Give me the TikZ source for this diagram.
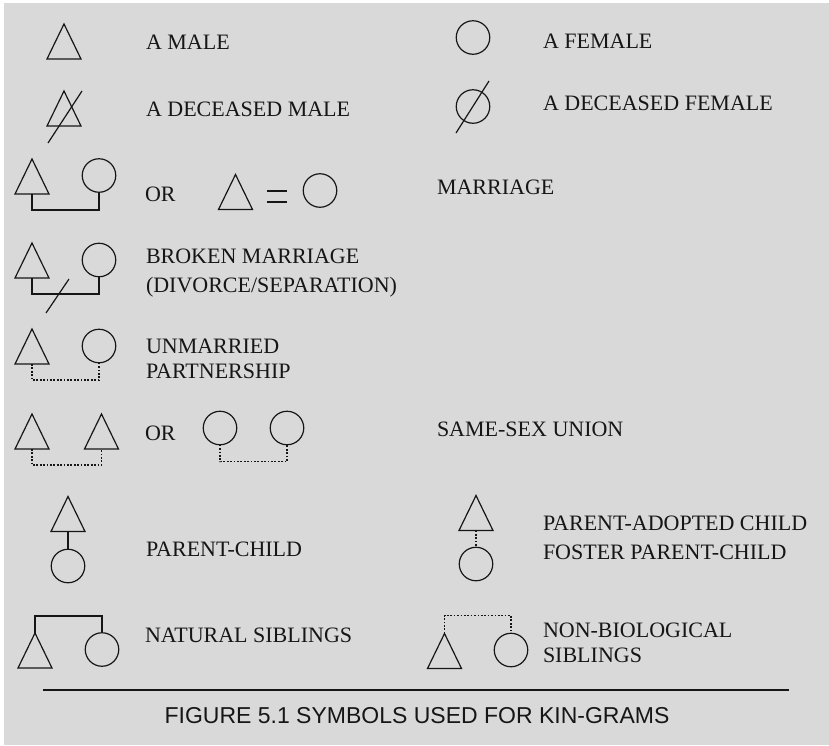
\documentclass[tikz,border=0pt]{standalone}
\usepackage{fontspec}
\setmainfont{Liberation Serif}
\newfontfamily\capfont{Liberation Sans}
\usetikzlibrary{calc}
\definecolor{panel}{RGB}{217,217,217}
\definecolor{ink}{RGB}{22,22,22}
\begin{document}
\begin{tikzpicture}[x=1pt,y=-1pt,
  line width=1.2pt, draw=ink,
  every node/.style={inner sep=0pt, outer sep=0pt},
  male/.style={rectangle, minimum width=34pt, minimum height=35pt},
  female/.style={circle, draw=ink, line width=1.2pt, minimum size=33.5pt},
  txt/.style={anchor=base west, text=ink, align=left,
    font=\fontsize{22}{29}\selectfont},
  txttight/.style={txt, font=\fontsize{22}{25}\selectfont},
  tri/.style={draw=ink, line width=1.2pt, line join=miter},
  tie/.style={draw=ink, line width=1.2pt},
  dotline/.style={draw=ink, line width=1.2pt, dash pattern=on 1.7pt off 1.7pt},
  slash/.style={draw=ink, line width=1.2pt},
]
% page and panel
\useasboundingbox (0,0) rectangle (829,745);
\fill[white] (0,0) rectangle (829,745);
\fill[panel] (4,3) rectangle (829,745);

% ---- symbols (triangles are drawn from the node corners) ----
\node[male] (m1) at (64,41.5) {};
\node[male] (dm) at (64,108.5) {};
\node[female] (f1) at (473,37.5) {};
\node[female] (df) at (473,106.5) {};

\node[male] (mt1) at (32,176.5) {};
\node[female] (mc1) at (99,175.5) {};
\node[male] (mt2) at (235.5,192) {};
\node[female] (mc2) at (320,190.5) {};

\node[male] (bt) at (32,260.5) {};
\node[female] (bc) at (99,260) {};

\node[male] (ut) at (32,346.5) {};
\node[female] (uc) at (99,346) {};

\node[male] (st1) at (32,431.5) {};
\node[male] (st2) at (101.5,431.5) {};
\node[female] (sc1) at (220,428) {};
\node[female] (sc2) at (287,428) {};

\node[male] (pt) at (68,514) {};
\node[female] (pc) at (68,566) {};
\node[male] (at) at (476,513) {};
\node[female] (ac) at (476,564) {};

\node[male] (nt) at (35,650.5) {};
\node[female] (nc) at (102,649.5) {};
\node[male] (bt2) at (444.5,651) {};
\node[female] (bc2) at (511,650) {};

\foreach \n in {m1,dm,mt1,mt2,bt,ut,st1,st2,pt,at,nt,bt2}
  \draw[tri] (\n.south west) -- (\n.north) -- (\n.south east) -- cycle;

% deceased strokes
\draw[slash] (48,143) -- (82,91);
\draw[slash] (456,133) -- (489,81);

% marriage
\draw[tie] (mt1.south) -- ++(0,16) -| (mc1.south);
\draw[tie] (267,191) -- (287,191);
\draw[tie] (267,202) -- (287,202);

% broken marriage
\draw[tie] (bt.south) -- ++(0,16) -| (bc.south);
\draw[slash] (46,313) -- (69,279);

% unmarried partnership
\draw[dotline] (ut.south) -- ++(0,16) -| (uc.south);

% same-sex unions
\draw[dotline] (st1.south) -- ++(0,16) -| (st2.south);
\draw[dotline] (sc1.south) -- ++(0,17) -| (sc2.south);

% parent-child
\draw[tie] (pt.south) -- (pc.north);
\draw[dotline] (at.south) -- (ac.north);

% siblings
\draw[tie] (nt.north) -- ++(0,-17) -| (nc.north);
\draw[dotline] (bt2.north) -- ++(0,-18) -| (bc2.north);

% ---- labels (two-line labels sit on the baseline of their last line) ----
\node[txt] (l1) at (146,49) {A MALE};
\node[txt] (l2) at (146,116) {A DECEASED MALE};
\node[txt] (l3) at (543,48) {A FEMALE};
\node[txt] (l4) at (543,110) {A DECEASED FEMALE};
\node[txt] (or1) at (145,201) {OR};
\node[txt] (l5) at (437,194) {MARRIAGE};
\node[txt] (l6) at (146,292) {BROKEN MARRIAGE\\(DIVORCE/SEPARATION)};
\node[txttight] (l7) at (146,378) {UNMARRIED\\PARTNERSHIP};
\node[txt] (or2) at (145,440) {OR};
\node[txt] (l8) at (437,436) {SAME-SEX UNION};
\node[txt] (l9) at (146,556) {PARENT-CHILD};
\node[txt] (l10) at (543,559) {PARENT-ADOPTED CHILD\\FOSTER PARENT-CHILD};
\node[txt] (l11) at (145,642) {NATURAL SIBLINGS};
\node[txttight] (l12) at (543,662) {NON-BIOLOGICAL\\SIBLINGS};

% rule and caption
\coordinate (ruleL) at (43,690);
\coordinate (ruleR) at (789,690);
\draw[draw=ink, line width=1.5pt] (ruleL) -- (ruleR);
\node[anchor=base, text=ink, font=\capfont\fontsize{23}{23}\selectfont] (cap) at (417,723)
  {FIGURE 5.1 SYMBOLS USED FOR KIN-GRAMS};
\end{tikzpicture}
\end{document}
